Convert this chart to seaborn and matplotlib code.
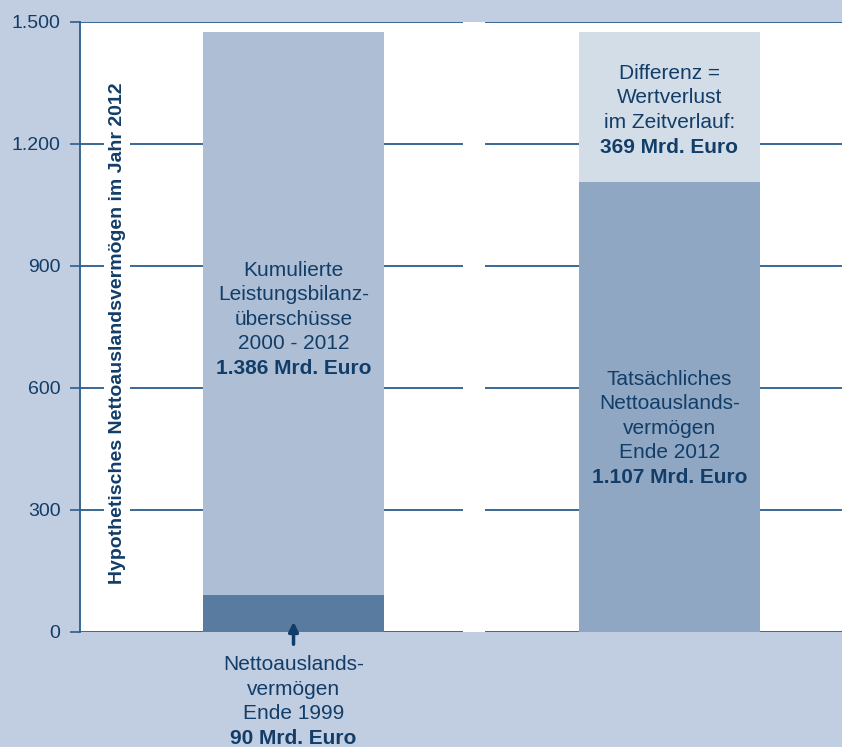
import matplotlib
matplotlib.use('Agg')
import matplotlib.pyplot as plt
import seaborn as sns
import pandas as pd

# ---- data ----
categories = ['Hypothetisch', 'Tatsächlich']
base_values = [90, 1107]
upper_values = [1386, 369]
yticks = [0, 300, 600, 900, 1200, 1500]
ytick_labels = ['0', '300', '600', '900', '1.200', '1.500']
ylabel = 'Hypothetisches Nettoauslandsvermögen im Jahr 2012'
bar1_lines = ['Kumulierte', 'Leistungsbilanz-', 'überschüsse', '2000 - 2012']
bar1_bold = '1.386 Mrd. Euro'
bar2_low_lines = ['Tatsächliches', 'Nettoauslands-', 'vermögen', 'Ende 2012']
bar2_low_bold = '1.107 Mrd. Euro'
bar2_up_lines = ['Differenz =', 'Wertverlust', 'im Zeitverlauf:']
bar2_up_bold = '369 Mrd. Euro'
below_lines = ['Nettoauslands-', 'vermögen', 'Ende 1999']
below_bold = '90 Mrd. Euro'

BG = '#c1cde0'
NAVY = '#123d68'
GRID = '#2b5d8c'
upper_colors = ['#aebfd5', '#d3dde8']
base_colors = ['#5a7ba0', '#8fa7c2']

totals = [b + u for b, u in zip(base_values, upper_values)]
df = pd.DataFrame({'cat': categories, 'base': base_values, 'total': totals})

sns.set_theme(style='white')
plt.rcParams['font.family'] = ['Liberation Sans', 'DejaVu Sans']

fig = plt.figure(figsize=(8.42, 7.47), dpi=100, facecolor=BG)
ax = fig.add_axes([80 / 842, 115 / 747, 762 / 842, 610 / 747])
ax.set_facecolor('white')

sns.barplot(data=df, x='cat', y='total', hue='cat', palette=upper_colors,
            width=0.48, saturation=1, legend=False, ax=ax, zorder=2,
            linewidth=0, edgecolor='none')
sns.barplot(data=df, x='cat', y='base', hue='cat', palette=base_colors,
            width=0.48, saturation=1, legend=False, ax=ax, zorder=2,
            linewidth=0, edgecolor='none')

xl, xr = -0.568, 1.459
gap_l, gap_r = 0.451, 0.509
for y in yticks:
    ax.hlines(y, xl, gap_l, color=GRID, lw=1.3, zorder=1)
    ax.hlines(y, gap_r, xr, color=GRID, lw=1.3, zorder=1)

ax.set_xlim(xl, xr)
ax.set_ylim(0, 1500)
ax.set_xticks([])
ax.set_xlabel('')
ax.set_ylabel('')
ax.set_yticks(yticks)
ax.set_yticklabels(ytick_labels, fontsize=14, color=NAVY)
ax.tick_params(axis='y', length=7, width=1.2, color=GRID, pad=7, left=True)
for s in ['top', 'right', 'bottom']:
    ax.spines[s].set_visible(False)
ax.spines['left'].set_color(GRID)
ax.spines['left'].set_linewidth(1.3)

ax.text(0.0486, 0.49, ylabel, transform=ax.transAxes, rotation=90,
        ha='center', va='center', fontsize=14, fontweight='bold', color=NAVY,
        zorder=3, bbox=dict(facecolor='white', edgecolor='none', pad=3))

step = 60.5


def block(x, y_first, lines, bold):
    y = y_first
    for ln in lines:
        ax.text(x, y, ln, ha='center', va='center', fontsize=15, color=NAVY,
                zorder=4, clip_on=False)
        y -= step
    ax.text(x, y, bold, ha='center', va='center', fontsize=15,
            fontweight='bold', color=NAVY, zorder=4, clip_on=False)


block(0, 890, bar1_lines, bar1_bold)
block(1, 622, bar2_low_lines, bar2_low_bold)
block(1, 1374, bar2_up_lines, bar2_up_bold)
block(0, -80, below_lines, below_bold)

ax.annotate('', xy=(0, 32), xytext=(0, -37),
            arrowprops=dict(arrowstyle='-|>', color=NAVY, lw=2.5,
                            mutation_scale=14),
            annotation_clip=False, zorder=5)

fig.savefig('out.png', dpi=100, facecolor=BG)
